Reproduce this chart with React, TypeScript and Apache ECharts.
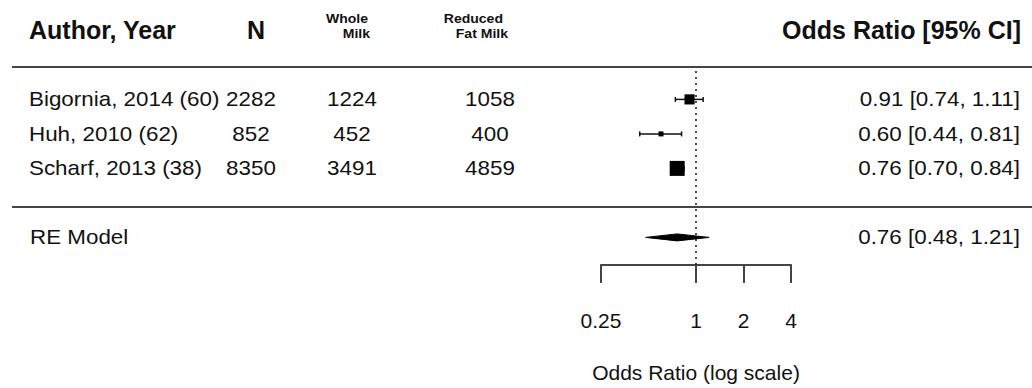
import React, { useEffect, useRef } from "react";
import * as echarts from "echarts";

const studies = ["Bigornia, 2014 (60)", "Huh, 2010 (62)", "Scharf, 2013 (38)"];
const nTotal = [2282, 852, 8350];
const nWhole = [1224, 452, 3491];
const nReduced = [1058, 400, 4859];
const orEst = [0.91, 0.6, 0.76];
const ciLow = [0.74, 0.44, 0.7];
const ciHigh = [1.11, 0.81, 0.84];
const weights = [33.5, 23.8, 42.7];
const summaryLabel = "RE Model";
const summaryEst = 0.76;
const summaryLow = 0.48;
const summaryHigh = 1.21;
const axisTicks = [0.25, 1, 2, 4];

const FONT = "'Liberation Sans', Arial, Helvetica, sans-serif";
const SX = 1.12;
const fmt = (v: number) => v.toFixed(2);

export default function App() {
  const ref = useRef<HTMLDivElement>(null);
  useEffect(() => {
    document.body.style.margin = "0";
    if (!ref.current) return;
    const chart = echarts.init(ref.current, null, { renderer: "svg" });
    const rowOf = (i: number) => 5 - i;
    const summaryRow = 1;
    const wMin = Math.min(...weights);
    const wMax = Math.max(...weights);
    const sizeOf = (w: number) => 5 + ((w - wMin) / (wMax - wMin)) * 10;

    const forestData = studies.map((_, i) => [orEst[i], rowOf(i), ciLow[i], ciHigh[i], sizeOf(weights[i])]);
    const tableData = studies.map((_, i) => [1, rowOf(i), i]);

    const txt = (x: number, y: number, text: string, align: string, size = 20, weight = "normal", sx = SX) => ({
      type: "text",
      x,
      y,
      scaleX: sx,
      style: {
        text,
        x: 0,
        y: 0,
        align,
        verticalAlign: "middle",
        fontSize: size,
        fontWeight: weight,
        fontFamily: FONT,
        fill: "#111",
      },
    });

    const option: any = {
      animation: false,
      backgroundColor: "#fff",
      grid: { left: 601, right: 241, top: 58, bottom: 118, containLabel: false },
      xAxis: {
        type: "log",
        logBase: 2,
        min: 0.25,
        max: 4,
        name: "Odds Ratio (log scale)",
        nameLocation: "middle",
        nameGap: 97,
        nameTextStyle: { fontSize: 21, fontFamily: FONT, color: "#111" },
        axisLine: { show: true, lineStyle: { color: "#444", width: 2 } },
        axisTick: { show: true, inside: false, length: 18, customValues: axisTicks, lineStyle: { color: "#444", width: 2 } },
        axisLabel: { show: true, customValues: axisTicks, margin: 45, fontSize: 21, fontFamily: FONT, color: "#111", formatter: (v: number) => String(v) },
        splitLine: { show: false },
        minorTick: { show: false },
      },
      yAxis: { type: "value", min: 0.2, max: 6.2, show: false },
      graphic: [
        { type: "line", shape: { x1: 12, y1: 67, x2: 1032, y2: 67 }, style: { stroke: "#444", lineWidth: 2 } },
        { type: "line", shape: { x1: 12, y1: 207, x2: 1032, y2: 207 }, style: { stroke: "#444", lineWidth: 2 } },
        txt(29, 30, "Author, Year", "left", 25, "bold", 1),
        txt(256, 30, "N", "center", 25, "bold", 1),
        txt(368, 19, "Whole", "right", 13, "bold", 1.08),
        txt(370, 34, "Milk", "right", 13, "bold", 1.08),
        txt(503, 19, "Reduced", "right", 13, "bold", 1.08),
        txt(508, 34, "Fat Milk", "right", 13, "bold", 1.08),
        txt(1021, 30, "Odds Ratio [95% CI]", "right", 25, "bold", 1),
      ],
      series: [
        {
          type: "line",
          data: [[1, 0.2], [1, 5.93]],
          showSymbol: false,
          symbol: "none",
          silent: true,
          lineStyle: { color: "#222", width: 1.6, type: [2, 4] },
          z: 1,
        },
        {
          type: "custom",
          data: forestData,
          encode: { x: 0, y: 1 },
          clip: false,
          z: 3,
          renderItem: (_p: any, api: any) => {
            const est = api.value(0), row = api.value(1), lo = api.value(2), hi = api.value(3), sz = api.value(4);
            const c = api.coord([est, row]);
            const l = api.coord([lo, row]);
            const h = api.coord([hi, row]);
            const cap = 2.5;
            return {
              type: "group",
              children: [
                { type: "line", shape: { x1: l[0], y1: l[1], x2: h[0], y2: h[1] }, style: { stroke: "#111", lineWidth: 1.5 } },
                { type: "line", shape: { x1: l[0], y1: l[1] - cap, x2: l[0], y2: l[1] + cap }, style: { stroke: "#111", lineWidth: 1.5 } },
                { type: "line", shape: { x1: h[0], y1: h[1] - cap, x2: h[0], y2: h[1] + cap }, style: { stroke: "#111", lineWidth: 1.5 } },
                { type: "rect", shape: { x: c[0] - sz / 2, y: c[1] - sz / 2, width: sz, height: sz }, style: { fill: "#000" } },
              ],
            };
          },
        },
        {
          type: "custom",
          data: [[summaryEst, summaryRow, summaryLow, summaryHigh]],
          encode: { x: 0, y: 1 },
          clip: false,
          z: 3,
          renderItem: (_p: any, api: any) => {
            const c = api.coord([api.value(0), api.value(1)]);
            const l = api.coord([api.value(2), api.value(1)]);
            const h = api.coord([api.value(3), api.value(1)]);
            const hh = 3.5;
            return {
              type: "polygon",
              shape: { points: [[l[0], l[1]], [c[0], c[1] - hh], [h[0], h[1]], [c[0], c[1] + hh]] },
              style: { fill: "#000", stroke: "#000", lineWidth: 1 },
            };
          },
        },
        {
          type: "custom",
          data: tableData,
          encode: { x: 0, y: 1 },
          clip: false,
          silent: true,
          renderItem: (_p: any, api: any) => {
            const i = api.value(2);
            const y = api.coord([1, api.value(1)])[1];
            return {
              type: "group",
              children: [
                txt(29, y, studies[i], "left"),
                txt(251, y, String(nTotal[i]), "center"),
                txt(352, y, String(nWhole[i]), "center"),
                txt(490, y, String(nReduced[i]), "center"),
                txt(1020, y, `${fmt(orEst[i])} [${fmt(ciLow[i])}, ${fmt(ciHigh[i])}]`, "right"),
              ],
            };
          },
        },
        {
          type: "custom",
          data: [[1, summaryRow]],
          encode: { x: 0, y: 1 },
          clip: false,
          silent: true,
          renderItem: (_p: any, api: any) => {
            const y = api.coord([1, api.value(1)])[1];
            return {
              type: "group",
              children: [
                txt(30, y, summaryLabel, "left"),
                txt(1020, y, `${fmt(summaryEst)} [${fmt(summaryLow)}, ${fmt(summaryHigh)}]`, "right"),
              ],
            };
          },
        },
      ],
    };
    chart.setOption(option);
    return () => chart.dispose();
  }, []);
  return <div ref={ref} style={{ width: 1032, height: 388 }} />;
}
